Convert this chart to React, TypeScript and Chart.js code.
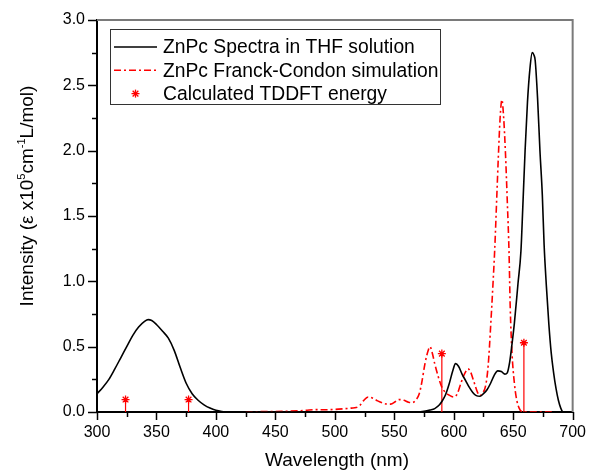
import React, { useEffect, useRef } from "react";
import { Chart, registerables } from "chart.js";

Chart.register(...registerables);

// ---- Data ----
const specWl = [300, 305, 310, 315, 320, 325, 330, 335, 340, 343, 346, 350, 355, 360, 365, 370, 375, 380, 385, 390, 395, 400, 405, 410, 450, 500, 550, 570,
  575, 580, 584, 588, 590, 593, 596, 599, 601.5, 604, 607, 610, 613, 616, 619, 622, 625, 628, 631, 634, 637, 640, 643, 645, 647, 649, 651, 654, 656.5, 658, 660, 662, 664, 666, 667.5, 668.5, 670.5, 672.5, 674.5, 676, 678, 680, 682, 684, 686, 688, 690, 692, 695];
const specVal = [0.14, 0.19, 0.25, 0.33, 0.415, 0.5, 0.585, 0.65, 0.693, 0.707, 0.7, 0.67, 0.62, 0.565, 0.47, 0.34, 0.22, 0.14, 0.09, 0.055, 0.03, 0.013, 0.004, 0, 0, 0, 0, 0,
  0.005, 0.015, 0.026, 0.055, 0.08, 0.13, 0.21, 0.31, 0.37, 0.35, 0.29, 0.24, 0.19, 0.15, 0.125, 0.12, 0.14, 0.17, 0.22, 0.28, 0.315, 0.31, 0.29, 0.3, 0.38, 0.52, 0.68, 0.98, 1.23, 1.55, 2.0, 2.37, 2.62, 2.75, 2.73, 2.69, 2.4, 2.0, 1.66, 1.28, 0.95, 0.67, 0.45, 0.3, 0.18, 0.09, 0.03, 0.0, 0.0];

const fcWl = [425, 440, 460, 475, 484, 490, 500, 509, 514, 518, 521, 524, 528, 532, 536, 542, 547, 551, 554, 558, 562, 565, 568, 571, 573, 576, 578.5, 580, 582, 584, 587, 590, 593, 596, 600, 603, 606, 609, 612, 614, 617, 620, 622, 624, 627, 629, 631, 633, 634.5, 636, 637.5, 639, 640.5, 642, 643.5, 645, 646.5, 647.5, 649, 651, 653, 655, 657, 660, 685];
const fcVal = [0, 0.003, 0.006, 0.012, 0.018, 0.017, 0.02, 0.026, 0.03, 0.034, 0.05, 0.085, 0.115, 0.105, 0.085, 0.064, 0.06, 0.08, 0.095, 0.09, 0.075, 0.072, 0.09, 0.14, 0.22, 0.38, 0.47, 0.5, 0.45, 0.37, 0.27, 0.19, 0.15, 0.13, 0.115, 0.14, 0.22, 0.29, 0.33, 0.31, 0.23, 0.15, 0.125, 0.14, 0.21, 0.36, 0.65, 0.98, 1.25, 1.6, 1.95, 2.25, 2.39, 2.25, 1.98, 1.62, 1.22, 0.8, 0.45, 0.22, 0.09, 0.03, 0.005, 0, 0];

const tddftWl = [324, 377, 590, 659];
const tddftVal = [0.095, 0.095, 0.447, 0.53];

const labelSpec = "ZnPc Spectra in THF solution";
const labelFC = "ZnPc Franck-Condon simulation";
const labelTDDFT = "Calculated TDDFT energy";

const xTitle = "Wavelength (nm)";
const yTitleParts: { t: string; sup: boolean }[] = [
  { t: "Intensity (ε x10", sup: false },
  { t: "5", sup: true },
  { t: "cm", sup: false },
  { t: "-1", sup: true },
  { t: "L/mol)", sup: false },
];

const FONT = '"Liberation Sans", Arial, Helvetica, sans-serif';

const ticksPlugin = {
  id: "customTicks",
  afterDraw(chart: any) {
    const ctx = chart.ctx;
    const { left, right, top, bottom } = chart.chartArea;
    const xs = chart.scales.x;
    const ys = chart.scales.y;
    ctx.save();
    // frame top/right
    ctx.strokeStyle = "#7a7a7a";
    ctx.lineWidth = 2;
    ctx.beginPath();
    ctx.moveTo(left, top);
    ctx.lineTo(right, top);
    ctx.lineTo(right, bottom);
    ctx.stroke();
    // ticks
    ctx.strokeStyle = "#000";
    ctx.lineWidth = 1.5;
    xs.ticks.forEach((t: any) => {
      const px = Math.round(xs.getPixelForValue(t.value)) + 0.5;
      const major = Math.abs(t.value % 50) < 1e-6;
      ctx.beginPath();
      ctx.moveTo(px, bottom);
      ctx.lineTo(px, bottom + (major ? 8 : 5));
      ctx.stroke();
    });
    ys.ticks.forEach((t: any) => {
      const py = Math.round(ys.getPixelForValue(t.value)) + 0.5;
      const major = Math.abs((t.value * 2) - Math.round(t.value * 2)) < 1e-6;
      ctx.beginPath();
      ctx.moveTo(left, py);
      ctx.lineTo(left - (major ? 9 : 5), py);
      ctx.stroke();
    });
    // axis titles
    ctx.fillStyle = "#000";
    ctx.font = `19px ${FONT}`;
    ctx.textAlign = "center";
    ctx.textBaseline = "alphabetic";
    ctx.fillText(xTitle, 337, 466);

    // y title with superscripts
    const supFont = `11px ${FONT}`;
    const mainFont = `19px ${FONT}`;
    let total = 0;
    yTitleParts.forEach((p) => {
      ctx.font = p.sup ? supFont : mainFont;
      total += ctx.measureText(p.t).width;
    });
    ctx.translate(33, 196);
    ctx.rotate(-Math.PI / 2);
    ctx.textAlign = "left";
    let x = -total / 2;
    yTitleParts.forEach((p) => {
      ctx.font = p.sup ? supFont : mainFont;
      ctx.fillText(p.t, x, p.sup ? -8 : 0);
      x += ctx.measureText(p.t).width;
    });
    ctx.restore();
  },
};

const legendPlugin = {
  id: "boxLegend",
  afterDraw(chart: any) {
    const ctx = chart.ctx;
    const items = chart.data.datasets.filter((d: any) => d.label);
    const bx = 110, by = 29, bw = 330, bh = 75;
    ctx.save();
    ctx.fillStyle = "#fff";
    ctx.fillRect(bx, by, bw, bh);
    ctx.strokeStyle = "#333";
    ctx.lineWidth = 1;
    ctx.strokeRect(bx + 0.5, by + 0.5, bw, bh);
    items.forEach((d: any, i: number) => {
      const y = by + 18 + i * 23.3;
      ctx.save();
      if (d.pointRadius > 0) {
        ctx.strokeStyle = d.borderColor;
        ctx.lineWidth = d.borderWidth;
        const cx = 135.5, r = d.pointRadius;
        for (let k = 0; k < 4; k++) {
          const a = (k * Math.PI) / 4;
          ctx.beginPath();
          ctx.moveTo(cx - Math.cos(a) * r, y - Math.sin(a) * r);
          ctx.lineTo(cx + Math.cos(a) * r, y + Math.sin(a) * r);
          ctx.stroke();
        }
      } else {
        ctx.strokeStyle = d.borderColor;
        ctx.lineWidth = d.borderWidth;
        ctx.setLineDash(d.borderDash || []);
        ctx.beginPath();
        ctx.moveTo(114, y);
        ctx.lineTo(157, y);
        ctx.stroke();
      }
      ctx.restore();
      ctx.fillStyle = "#000";
      ctx.font = `19.3px ${FONT}`;
      ctx.textAlign = "left";
      ctx.textBaseline = "middle";
      ctx.fillText(d.label, 163, y + 1);
    });
    ctx.restore();
  },
};

export default function App() {
  const ref = useRef<HTMLCanvasElement>(null);
  useEffect(() => {
    document.body.style.margin = "0";
    const canvas = ref.current;
    if (!canvas) return;
    const stems: any[] = [];
    tddftWl.forEach((w, i) => {
      stems.push({ x: w, y: 0 });
      stems.push({ x: w, y: tddftVal[i] });
      stems.push({ x: w, y: null });
    });
    const chart = new Chart(canvas, {
      type: "line",
      data: {
        datasets: [
          {
            label: labelSpec,
            data: specWl.map((w, i) => ({ x: w, y: specVal[i] })),
            borderColor: "#000",
            borderWidth: 1.6,
            pointRadius: 0,
            cubicInterpolationMode: "monotone",
            fill: false,
          } as any,
          {
            label: labelFC,
            data: fcWl.map((w, i) => ({ x: w, y: fcVal[i] })),
            borderColor: "#ff0000",
            borderWidth: 1.6,
            borderDash: [7, 3, 2, 3],
            pointRadius: 0,
            cubicInterpolationMode: "monotone",
            fill: false,
          } as any,
          {
            data: stems,
            borderColor: "#ff0000",
            borderWidth: 1.2,
            pointRadius: 0,
            spanGaps: false,
            tension: 0,
            fill: false,
          } as any,
          {
            label: labelTDDFT,
            data: tddftWl.map((w, i) => ({ x: w, y: tddftVal[i] })),
            showLine: false,
            borderColor: "#ff0000",
            backgroundColor: "#ff0000",
            borderWidth: 1.3,
            pointStyle: "star",
            pointRadius: 4,
          } as any,
        ],
      },
      options: {
        animation: false,
        responsive: false,
        maintainAspectRatio: false,
        layout: { padding: { top: 20, right: 14, left: 0, bottom: 0 } },
        plugins: { legend: { display: false }, tooltip: { enabled: false } },
        scales: {
          x: {
            type: "linear",
            min: 300,
            max: 700,
            afterFit: (s: any) => {
              s.height = 59;
            },
            ticks: {
              stepSize: 25,
              autoSkip: false,
              maxRotation: 0,
              padding: 3,
              color: "#000",
              font: { family: FONT, size: 16 },
              callback: (v: any) => (Math.abs(Number(v) % 50) < 1e-6 ? String(v) : ""),
            },
            grid: { display: true, drawOnChartArea: false, drawTicks: true, tickLength: 8, tickColor: "rgba(0,0,0,0)" },
            border: { display: true, color: "#000", width: 2 },
          },
          y: {
            type: "linear",
            min: 0,
            max: 3,
            afterFit: (s: any) => {
              s.width = 97;
            },
            ticks: {
              stepSize: 0.25,
              autoSkip: false,
              padding: 3,
              color: "#000",
              font: { family: FONT, size: 16 },
              callback: (v: any) => {
                const n = Number(v);
                return Math.abs(n * 2 - Math.round(n * 2)) < 1e-6 ? n.toFixed(1) : "";
              },
            },
            grid: { display: true, drawOnChartArea: false, drawTicks: true, tickLength: 9, tickColor: "rgba(0,0,0,0)" },
            border: { display: true, color: "#000", width: 2 },
          },
        },
      },
      plugins: [ticksPlugin, legendPlugin],
    });
    return () => chart.destroy();
  }, []);
  return (
    <div style={{ width: 589, height: 471 }}>
      <canvas ref={ref} width={589} height={471} style={{ display: "block" }} />
    </div>
  );
}
